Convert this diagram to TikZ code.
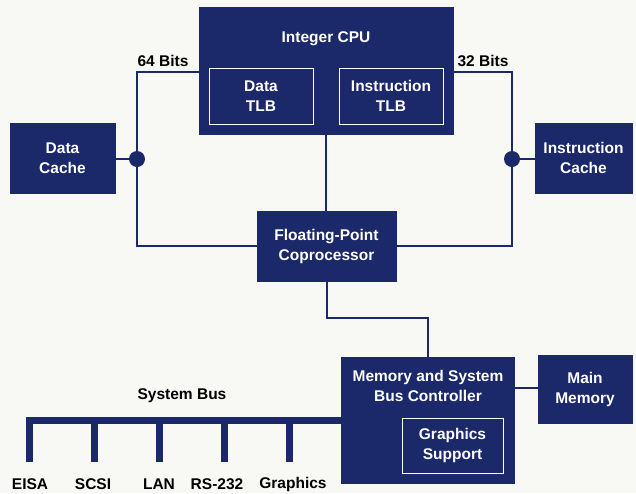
\documentclass[tikz,border=0pt]{standalone}
\usepackage{fontspec}
\setmainfont{Liberation Sans}
\usetikzlibrary{calc}
\definecolor{navy}{RGB}{27,40,106}
\definecolor{paper}{RGB}{248,248,245}
\begin{document}
\begin{tikzpicture}[x=1pt,y=-1pt,
  blk/.style={fill=navy,draw=navy,text=white,inner sep=0pt,align=center,
    font=\fontsize{15.5}{20}\selectfont\bfseries},
  inner/.style={draw=white,line width=0.8pt,fill=navy,text=white,inner sep=0pt,align=center,
    font=\fontsize{15.5}{20}\selectfont\bfseries},
  wire/.style={draw=navy,line width=1.5pt},
  bus/.style={draw=navy,line width=7pt},
  dotn/.style={circle,fill=navy,inner sep=0pt,minimum size=16pt},
  lbl/.style={text=black,inner sep=0pt,font=\fontsize{15.5}{18}\selectfont\bfseries}]
\fill[paper] (0,0) rectangle (636,493);
\useasboundingbox (0,0) rectangle (636,493);

% blocks
\node[blk,minimum width=254pt,minimum height=127pt] (cpu) at (326,70.5) {};
\node[text=white,inner sep=0pt,font=\fontsize{15.5}{20}\selectfont\bfseries] (cput) at (326,39) {Integer CPU};
\node[inner,minimum width=104pt,minimum height=56pt] (dtlb) at (261,96) {Data\\TLB};
\node[inner,minimum width=104pt,minimum height=56pt] (itlb) at (391,96) {Instruction\\TLB};
\node[blk,minimum width=105pt,minimum height=70pt] (dcache) at (62.5,158) {Data\\Cache};
\node[blk,minimum width=97pt,minimum height=70pt] (icache) at (583.5,158) {Instruction\\Cache};
\node[blk,minimum width=139pt,minimum height=70pt] (fpu) at (326.5,246) {Floating-Point\\Coprocessor};
\node[blk,minimum width=173pt,minimum height=126pt] (mc) at (427.5,420) {};
\node[text=white,inner sep=0pt,align=center,font=\fontsize{15.5}{20}\selectfont\bfseries] (mct) at (428,386) {Memory and System\\Bus Controller};
\node[inner,minimum width=101pt,minimum height=55pt] (gs) at (452.5,445.5) {Graphics\\Support};
\node[blk,minimum width=94pt,minimum height=68pt] (mm) at (585,389) {Main\\Memory};

% left (64 bit) path
\coordinate (lt) at (137,72);
\coordinate (lb) at (137,246);
\node[dotn] (ld) at (137,159) {};
\draw[wire] (cpu.west |- lt) -- (lt) -- (lb) -- (fpu.west);
\draw[wire] (dcache.east |- ld) -- (ld);
\node[lbl] (b64) at (163,61) {64 Bits};

% right (32 bit) path
\coordinate (rt) at (512,72);
\coordinate (rb) at (512,246);
\node[dotn] (rd) at (512,159) {};
\draw[wire] (cpu.east |- rt) -- (rt) -- (rb) -- (fpu.east);
\draw[wire] (icache.west |- rd) -- (rd);
\node[lbl] (b32) at (483,61) {32 Bits};

% cpu - fpu
\draw[wire] (cpu.south) -- (cpu.south |- fpu.north);
% fpu - mc
\coordinate (m1) at (327,318);
\coordinate (m2) at (428,318);
\draw[wire] (fpu.south -| m1) -- (m1) -- (m2) -- (m2 |- mc.north);
% mc - main memory
\coordinate (mmy) at (0,388);
\draw[wire] (mc.east |- mmy) -- (mm.west |- mmy);

% system bus
\coordinate (bl) at (26,420.5);
\draw[bus] (bl) -- (mc.west |- bl);
\foreach \x/\n in {29.5/EISA,94.5/SCSI,159/LAN,224/RS-232,289/Graphics}{
  \coordinate (s\n) at (\x,417);
  \draw[bus] (s\n) -- ++(0,45);
}
\node[lbl] (sb) at (182,396) {System Bus};
\node[lbl] (eisa) at (30,484) {EISA};
\node[lbl] (scsi) at (93,484) {SCSI};
\node[lbl] (lan) at (159,484) {LAN};
\node[lbl] (rs) at (217,484) {RS-232};
\node[lbl] (gr) at (293,484) {Graphics};
\end{tikzpicture}
\end{document}
